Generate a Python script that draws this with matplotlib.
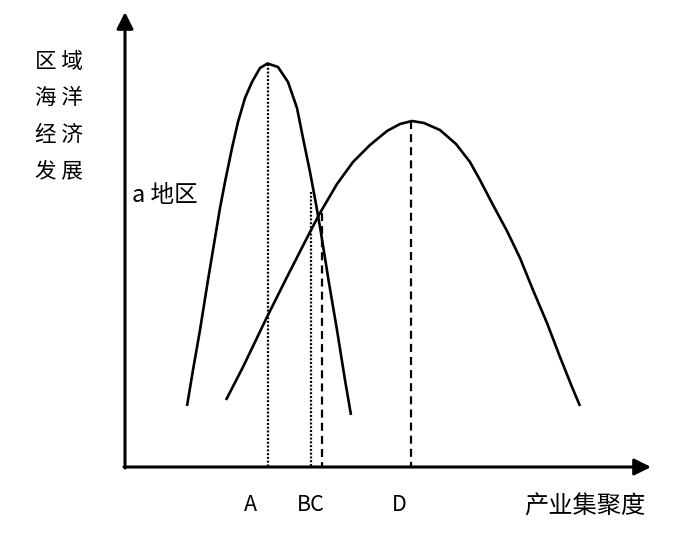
import matplotlib
matplotlib.use("Agg")
import matplotlib.pyplot as plt

plt.rcParams['font.family'] = ['Noto Sans CJK SC', 'DejaVu Sans']

# curve a (narrow) (pixel space, y down)
a_x = [187, 193, 200, 208, 216, 220, 225, 232, 238, 245, 252, 260, 267.5,
       278, 288, 297, 303, 310, 316, 321, 328.5, 337, 345, 351]
a_y = [406, 370, 330, 280, 232, 208, 182, 148, 122, 98, 82, 68, 63.5,
       67, 82, 108, 138, 172, 204, 233, 280, 330, 380, 415]

# curve b (wide)
b_x = [226, 243, 267, 287, 310, 320, 337, 353, 370, 387, 400, 412, 424,
       440, 456, 470, 480, 493, 507, 520, 533, 547, 560, 572, 580]
b_y = [400, 367, 317, 277, 232, 213, 184, 162, 145, 131, 124, 121, 123,
       130, 144, 162, 180, 205, 231, 258, 290, 323, 357, 387, 406]

# reference lines: x position, top end
ref_x = [268, 311, 322, 411]
ref_top = [64, 192, 213, 121]
ref_style = [':', ':', '--', '--']

tick_x = [250, 311, 399]
tick_labels = ["A", "BC", "D"]

ylabel_lines = ["区 域", "海 洋", "经 济", "发 展"]
ylabel_y = [62, 98, 135, 171]

x0, y0 = 125, 467   # origin of the sketch axes

fig = plt.figure(figsize=(7, 5.35), dpi=100)
ax = fig.add_axes([0, 0, 1, 1])
ax.set_xlim(0, 700)
ax.set_ylim(535, 0)
ax.axis('off')

# axes with arrows
ax.annotate("", xy=(x0, 12), xytext=(x0, y0 + 1),
            arrowprops=dict(arrowstyle='-|>', color='black', lw=2.2, mutation_scale=25, shrinkA=0, shrinkB=0))
ax.annotate("", xy=(651, y0), xytext=(x0 - 1, y0),
            arrowprops=dict(arrowstyle='-|>', color='black', lw=2.2, mutation_scale=25, shrinkA=0, shrinkB=0))

ax.plot(a_x, a_y, color='black', lw=1.9, solid_capstyle='butt', solid_joinstyle='round')
ax.plot(b_x, b_y, color='black', lw=1.9, solid_capstyle='butt', solid_joinstyle='round')

for x, top, ls in zip(ref_x, ref_top, ref_style):
    if ls == ':':
        ax.plot([x, x], [top, y0], color='black', lw=1.6, linestyle=(0, (0.9, 0.8)))
    else:
        ax.plot([x, x], [top, y0], color='black', lw=1.6, linestyle=(0, (3.6, 2.3)))

for x, lab in zip(tick_x, tick_labels):
    ax.text(x, 505, lab, fontsize=15.5, ha='center', va='center')

for s, y in zip(ylabel_lines, ylabel_y):
    ax.text(59, y, s, fontsize=15.5, ha='center', va='center')

ax.text(132, 195, "a 地区", fontsize=17, ha='left', va='center')
ax.text(585, 507, "产业集聚度", fontsize=17.5, ha='center', va='center')

fig.savefig("out.png", dpi=100)
